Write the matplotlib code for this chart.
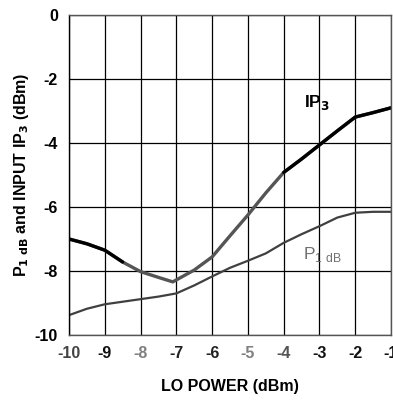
import matplotlib.pyplot as plt
import numpy as np

plt.rcParams['font.family'] = ['Liberation Sans', 'DejaVu Sans']

# LO power (dBm)
lo_power = [-10, -9.5, -9, -8.5, -8, -7.5, -7.1, -6.5, -6, -5.5, -5,
            -4.5, -4, -3.5, -3, -2.5, -2, -1.5, -1]
# input IP3 (dBm)
ip3 = [-7.0, -7.15, -7.35, -7.72, -8.02, -8.2, -8.34, -7.97, -7.56, -6.9, -6.25,
       -5.56, -4.92, -4.5, -4.06, -3.62, -3.19, -3.05, -2.9]

p1_power = [-10, -9.5, -9, -8.5, -8, -7.5, -7, -6.5, -6, -5.5, -5,
            -4.5, -4, -3.5, -3, -2.5, -2, -1.5, -1]
# P1dB (dBm)
p1db = [-9.38, -9.18, -9.04, -8.96, -8.88, -8.8, -8.7, -8.45, -8.17, -7.9, -7.68,
        -7.45, -7.12, -6.85, -6.6, -6.33, -6.18, -6.15, -6.15]

x_ticks = [-10, -9, -8, -7, -6, -5, -4, -3, -2, -1]
y_ticks = [0, -2, -4, -6, -8, -10]
# scanned label shades
x_tick_colors = ['#444444', '#111111', '#808080', '#222222', '#222222',
                 '#808080', '#555555', '#111111', '#111111', '#111111']

fig = plt.figure(figsize=(3.93, 4.01), dpi=100)
ax = fig.add_axes([0.1756, 0.1646, 0.8194, 0.798])

ax.set_xlim(-10, -1)
ax.set_ylim(-10, 0)
ax.set_xticks(x_ticks)
ax.set_yticks(y_ticks)
ax.set_xticklabels([str(v) for v in x_ticks])
ax.set_yticklabels([str(v) for v in y_ticks])
ax.grid(True, color='black', linewidth=0.9)
ax.set_axisbelow(True)
ax.tick_params(length=0, labelsize=11.5, pad=8)
for lab in ax.get_xticklabels() + ax.get_yticklabels():
    lab.set_fontweight('bold')
for lab, c in zip(ax.get_xticklabels(), x_tick_colors):
    lab.set_color(c)

for s in ['top', 'right', 'bottom']:
    ax.spines[s].set_color('#555555')
ax.spines['left'].set_color('black')
for s in ax.spines.values():
    s.set_linewidth(1.0)

# P1dB curve
ax.plot(p1_power, p1db, color='#404040', linewidth=1.6, solid_capstyle='round')

# IP3 curve: gray in the middle (scan shading), black at ends
ax.plot(lo_power, ip3, color='#555555', linewidth=2.4, solid_capstyle='round')
ax.plot(lo_power[:4], ip3[:4], color='black', linewidth=2.4, solid_capstyle='round')
ax.plot(lo_power[12:], ip3[12:], color='black', linewidth=2.4, solid_capstyle='round')

ax.text(-3.42, -2.75, 'IP$_\\mathbf{3}$', fontsize=12.5, fontweight='bold',
        color='black', ha='left', va='center')
ax.text(-3.45, -7.5, 'P$_\\mathregular{1\\ dB}$', fontsize=12.5,
        color='#707070', ha='left', va='center')

ax.set_xlabel('LO POWER (dBm)', fontsize=11.5, fontweight='bold', labelpad=13)
ax.set_ylabel('P$_\\mathbf{1\\ dB}$ and INPUT IP$_\\mathbf{3}$ (dBm)',
              fontsize=11.5, fontweight='bold')
ax.yaxis.set_label_coords(-0.118, 0.5)

fig.savefig('out.png', dpi=100)
